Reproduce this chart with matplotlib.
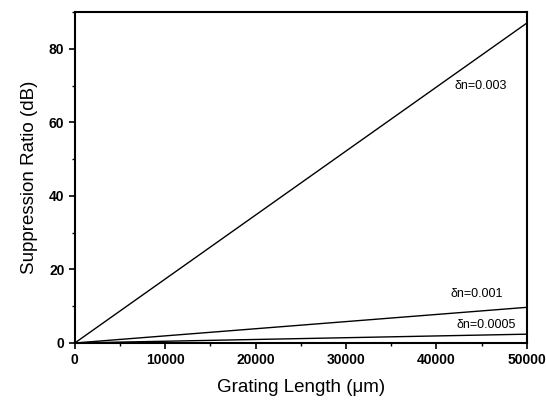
import matplotlib
matplotlib.use("Agg")
import matplotlib.pyplot as plt
from matplotlib.ticker import MultipleLocator

plt.rcParams['font.family'] = ['Liberation Sans', 'DejaVu Sans']

length_um = [0, 50000]
sr_003 = [0, 87.0]
sr_001 = [0, 9.7]
sr_0005 = [0, 2.4]
labels = ["δn=0.003", "δn=0.001", "δn=0.0005"]
xticks = [0, 10000, 20000, 30000, 40000, 50000]
yticks = [0, 20, 40, 60, 80]

fig = plt.figure(figsize=(5.46, 4.00), dpi=100)
ax = fig.add_axes([0.137, 0.1425, 0.828, 0.8275])

for ys in (sr_003, sr_001, sr_0005):
    ax.plot(length_um, ys, color='black', lw=1.0)

ax.text(47800, 70, labels[0], fontsize=9, ha='right', va='center')
ax.text(47400, 13.3, labels[1], fontsize=9, ha='right', va='center')
ax.text(48800, 4.9, labels[2], fontsize=9, ha='right', va='center')

ax.set_xlim(0, 50000)
ax.set_ylim(0, 90)
ax.set_xticks(xticks)
ax.set_yticks(yticks)
ax.xaxis.set_minor_locator(MultipleLocator(5000))
ax.yaxis.set_minor_locator(MultipleLocator(10))
ax.tick_params(which='major', direction='out', length=4, width=1.2, labelsize=10)
ax.tick_params(which='minor', direction='out', length=2.5, width=1.0)
for lab in ax.get_xticklabels() + ax.get_yticklabels():
    lab.set_fontweight('bold')
for sp in ax.spines.values():
    sp.set_linewidth(1.5)

ax.set_xlabel("Grating Length (μm)", fontsize=13.5, labelpad=8)
ax.set_ylabel("Suppression Ratio (dB)", fontsize=13.5, labelpad=8)

fig.savefig("out.png", dpi=100)
